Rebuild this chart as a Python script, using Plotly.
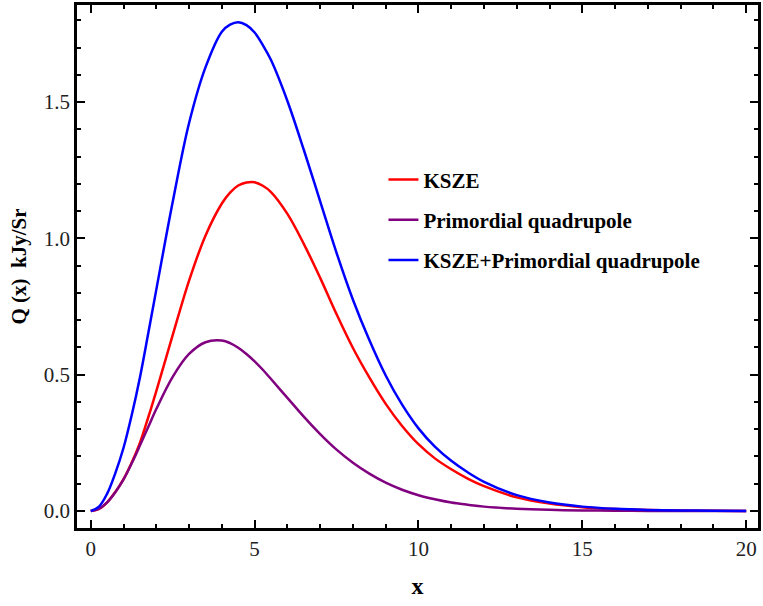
import plotly.graph_objects as go

x_vals = [0, 0.25, 0.5, 0.75, 1.0, 1.25, 1.5, 1.75, 2.0, 2.5, 3.0, 3.5, 4.0, 4.25,
          4.5, 4.75, 5.0, 5.25, 5.5, 6.0, 6.5, 7.0, 7.5, 8.0, 8.5, 9.0, 9.5,
          10.0, 10.5, 11.0, 11.5, 12.0, 13.0, 14.0, 15.0, 16.0, 17.0, 18.0,
          19.0, 20.0]

ksze = [0.0, 0.008, 0.032, 0.070, 0.117, 0.178, 0.250, 0.342, 0.440, 0.645,
        0.845, 1.010, 1.128, 1.168, 1.194, 1.205, 1.206, 1.193, 1.170, 1.090,
        0.980, 0.855, 0.722, 0.598, 0.490, 0.393, 0.312, 0.245, 0.193, 0.153,
        0.119, 0.091, 0.050, 0.027, 0.014, 0.0071, 0.0035, 0.0017, 0.0008,
        0.0004]

primordial = [0.0, 0.008, 0.0315, 0.069, 0.116, 0.175, 0.240, 0.307, 0.374,
              0.492, 0.576, 0.619, 0.625, 0.616, 0.599, 0.576, 0.549, 0.518,
              0.484, 0.415, 0.346, 0.282, 0.225, 0.177, 0.137, 0.104, 0.078,
              0.058, 0.043, 0.031, 0.023, 0.016, 0.0083, 0.0041, 0.0020,
              0.0009, 0.0004, 0.0002, 0.0001, 0.0]

combined = [0.0, 0.016, 0.0635, 0.139, 0.232, 0.352, 0.490, 0.649, 0.812,
            1.133, 1.423, 1.627, 1.758, 1.784, 1.793, 1.782, 1.755, 1.709,
            1.654, 1.504, 1.325, 1.136, 0.947, 0.775, 0.627, 0.497, 0.390,
            0.303, 0.236, 0.184, 0.142, 0.107, 0.058, 0.031, 0.016, 0.008,
            0.004, 0.002, 0.001, 0.0004]

series_names = ["KSZE", "Primordial quadrupole", "KSZE+Primordial quadrupole"]
series_colors = ["#ff0000", "#800080", "#0000ff"]

x_ticks = [0, 5, 10, 15, 20]
y_ticks = [0.0, 0.5, 1.0, 1.5]
y_tick_labels = ["0.0", "0.5", "1.0", "1.5"]

fig = go.Figure()
for name, ys, col in zip(series_names, [ksze, primordial, combined], series_colors):
    fig.add_trace(go.Scatter(x=x_vals, y=ys, mode="lines", name=name,
                             legendgroup=name,
                             line=dict(color=col, width=2.5, shape="spline",
                                       smoothing=1.0)))

serif = "Liberation Serif"
axis_common = dict(showline=True, linecolor="black", linewidth=2.5,
                   mirror="ticks", ticks="inside", ticklen=8, tickwidth=1.5,
                   tickcolor="black", showgrid=False, zeroline=False,
                   tickfont=dict(family=serif, size=21, color="#222222"))

fig.update_xaxes(range=[-0.42, 20.36], tickvals=x_ticks,
                 ticktext=[str(t) for t in x_ticks],
                 minor=dict(ticks="inside", ticklen=4, dtick=1, tick0=0,
                            tickwidth=1.5, tickcolor="black", showgrid=False),
                 title=dict(text="x", font=dict(family=serif, size=24,
                                                color="black", weight="bold"),
                            standoff=18),
                 **axis_common)
fig.update_yaxes(range=[-0.0624, 1.856], tickvals=y_ticks, ticktext=y_tick_labels,
                 minor=dict(ticks="inside", ticklen=4, dtick=0.1, tick0=0,
                            tickwidth=1.5, tickcolor="black", showgrid=False),
                 title=dict(text="Q (x)  kJy/Sr",
                            font=dict(family=serif, size=21, color="black",
                                      weight="bold"),
                            standoff=12),
                 **axis_common)

fig.update_layout(
    width=763, height=606,
    margin=dict(l=77, r=2, t=5, b=78),
    plot_bgcolor="white", paper_bgcolor="white",
    showlegend=True,
    legend=dict(x=0.45, y=0.705, xanchor="left", yanchor="top",
                bgcolor="rgba(0,0,0,0)", tracegroupgap=10,
                traceorder="grouped", itemwidth=30,
                font=dict(family=serif, size=21, color="black", weight="bold")),
)

fig.write_html("out.html")
